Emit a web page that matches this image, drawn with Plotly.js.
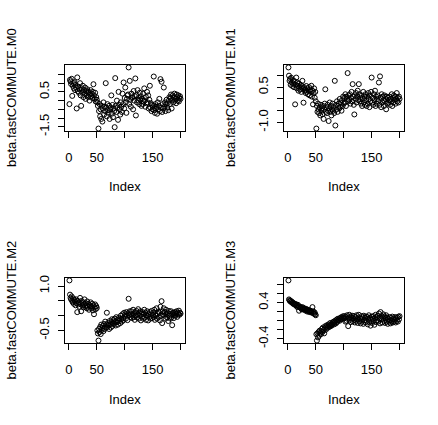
<!DOCTYPE html>
<html>
<head>
<meta charset="utf-8">
<script src="https://cdn.plot.ly/plotly-3.0.1.min.js"></script>
<style>
  html, body { margin: 0; padding: 0; background: #fff; }
  #plot { width: 438px; height: 425px; }
</style>
</head>
<body>
<div id="plot"></div>
<script>
// values, index 1..200
const beta_M0 = [
  -0.2, 1.19, 1.1, 0.95, 1.25, 0.27, 0.85, 1.0, 0.7, 1.05,
  0.6, 0.9, 0.75, -0.45, 1.33, 0.55, 0.8, 0.45, 0.65, 1.0,
  0.3, -0.3, 0.7, 0.5, 0.85, 0.2, 0.6, 0.4, 0.75, 0.1,
  0.55, 0.3, 0.65, 0.45, 0.2, 0.5, 0.0, 0.35, 0.6, 0.25,
  0.4, 0.15, 0.5, 0.94, 0.3, 0.1, 0.45, -0.05, 0.2, 0.05,
  -0.1, -0.3, -1.6, -0.6, -0.2, -0.9, -0.5, -1.05, -0.3, -1.2,
  -0.45, -0.1, -0.8, -0.35, -0.6, 1.0, -0.4, -0.9, -0.2, -0.55,
  -0.7, -0.3, -1.05, -0.5, -0.4, 0.3, -0.75, -0.25, -0.95, -0.45,
  -0.6, -1.52, 1.29, -0.3, -0.65, 0.0, -0.4, -1.1, 0.5, -0.25,
  -0.5, -0.8, -0.1, -0.35, -0.65, 0.4, -0.2, 1.04, -0.45, 0.15,
  0.75, -0.1, -0.7, 0.1, 0.3, 0.35, 1.9, -0.2, 1.13, 0.05,
  -0.35, 0.4, 0.15, 0.2, -0.5, 0.55, 0.0, 0.25, 1.27, -0.85,
  0.3, -0.1, 0.6, 0.0, 0.15, -0.2, 0.45, 0.05, 0.25, -0.3,
  0.1, -0.2, 0.4, -0.05, 0.7, 0.0, -0.35, 0.2, -0.15, 0.5,
  -0.1, 0.3, -0.45, 0.05, 0.85, -0.4, -0.15, -0.6, -0.25, -0.5,
  -0.3, 1.38, -0.55, -0.7, -0.2, -0.45, -0.35, -0.75, -0.1, -0.5,
  -0.3, 0.1, -0.6, 1.23, -0.4, 1.08, -0.65, -0.2, -0.45, 0.75,
  -0.35, -0.1, -0.6, -0.2, 0.05, -0.4, -0.15, -0.55, 0.0, 0.2,
  -0.2, 0.15, 0.35, -0.45, 0.05, 0.3, -0.1, 0.2, 0.4, 0.0,
  0.1, -0.15, 0.35, 0.2, 0.0, 0.3, -0.05, 0.15, 0.25, 0.1
];
const beta_M1 = [
  1.34, 0.99, 0.77, 0.85, 0.6, 0.9, 0.7, 0.55, 0.8, 0.65,
  0.5, 0.75, -0.23, 0.6, 0.91, 0.45, 0.7, 0.55, 0.35, 0.65,
  0.5, 0.4, 0.6, 0.3, 0.55, 0.77, 0.45, -0.16, 0.5, 0.35,
  0.4, 0.25, 0.55, 0.3, 0.45, 0.2, 0.35, 0.5, 0.15, 0.4,
  0.3, 0.56, 0.1, 0.35, -0.23, 0.25, 0.45, 0.05, 0.3, -0.1,
  -1.26, -0.3, -0.55, -0.2, -0.45, -0.6, -0.35, -0.7, -0.25, -0.5,
  -0.4, -0.65, -0.3, -0.85, -0.45, -0.2, 0.41, -0.55, -0.35, -0.6,
  -0.25, -0.5, -0.94, -0.4, -0.15, -0.55, -0.3, -0.7, -0.45, -0.2,
  -0.5, -0.35, -0.6, 0.77, -1.13, -0.25, -0.45, -0.1, -0.55, -0.3,
  -0.2, -0.4, 0.0, -0.35, -0.15, -0.5, -0.05, -0.3, 0.1, -0.2,
  0.05, -0.15, 0.2, -0.3, 0.1, 0.0, 1.1, -0.1, 0.15, -0.05,
  0.2, -0.2, 0.05, 0.3, -0.1, 0.63, 0.1, -0.25, -0.66, 0.15,
  0.0, 0.25, -0.15, 0.1, 0.35, -0.05, 0.63, 0.2, -0.1, 0.05,
  -0.2, 0.15, -0.3, 0.0, 0.3, -0.15, 0.1, -0.25, 0.2, -0.05,
  -0.3, 0.1, -0.2, 0.25, 0.0, -0.35, 0.15, -0.1, 0.3, 0.91,
  -0.15, 0.05, -0.25, 0.2, -0.05, 0.35, -0.3, 0.1, -0.2, 0.0,
  0.15, -0.1, 0.7, -0.25, 0.96, 0.05, -0.35, 0.2, -0.15, 0.1,
  -0.05, -0.3, 0.15, -0.1, 0.0, -0.44, 0.1, -0.2, 0.05, -0.15,
  -0.05, 0.1, -0.25, 0.0, -0.1, 0.2, -0.3, 0.05, -0.15, 0.15,
  -0.05, 0.1, -0.2, 0.0, 0.25, -0.1, 0.05, -0.15, 0.1, 0.0
];
const beta_M2 = [
  1.19, 0.71, 0.6, 0.55, 0.65, 0.5, 0.45, 0.58, 0.4, 0.52,
  0.48, 0.35, 0.55, 0.42, 0.12, 0.5, 0.38, 0.45, 0.3, 0.6,
  0.4, 0.15, 0.5, 0.35, 0.45, 0.28, 0.38, 0.55, 0.3, 0.42,
  0.35, 0.25, 0.48, 0.3, 0.4, 0.2, 0.36, 0.32, 0.45, 0.25,
  0.3, 0.4, 0.18, 0.35, 0.05, 0.28, 0.38, 0.22, 0.32, 0.26,
  -0.5, -0.6, -0.84, -0.45, -0.55, -0.38, -0.62, -0.3, -0.48, -0.42,
  -0.35, -0.52, -0.28, -0.45, -0.2, -0.4, -0.3, 0.1, -0.38, -0.25,
  -0.32, -0.45, -0.18, -0.3, -0.4, -0.22, -0.12, -0.35, -0.25, -0.15,
  -0.28, -0.1, -0.2, -0.33, -0.05, -0.22, -0.15, -0.3, -0.08, -0.18,
  -0.1, -0.25, 0.0, -0.12, -0.2, 0.05, -0.08, -0.15, 0.1, -0.02,
  0.05, -0.1, 0.12, 0.0, -0.15, 0.08, 0.57, 0.02, 0.15, -0.05,
  0.05, 0.15, -0.08, 0.02, 0.2, -0.05, 0.08, -0.14, 0.12, 0.0,
  0.16, -0.06, 0.05, 0.22, -0.1, 0.1, 0.0, 0.15, -0.16, 0.06,
  -0.04, 0.12, -0.1, 0.05, 0.2, -0.06, 0.1, -0.14, 0.02, 0.15,
  0.0, -0.16, 0.06, -0.05, 0.12, -0.1, 0.04, 0.16, -0.08, 0.02,
  0.1, -0.05, 0.2, -0.14, 0.05, 0.0, 0.25, -0.1, 0.06, 0.14,
  -0.05, 0.1, -0.16, 0.3, 0.0, 0.49, -0.25, 0.14, 0.04, 0.25,
  0.0, 0.12, -0.1, 0.2, 0.05, -0.06, 0.1, -0.18, 0.16, 0.0,
  0.06, -0.1, 0.15, -0.05, -0.32, 0.05, 0.1, -0.08, 0.02, 0.12,
  0.0, 0.08, 0.15, -0.04, 0.1, 0.05, 0.17, 0.03, 0.1, 0.07
];
const beta_M3 = [
  0.89, 0.47, 0.45, 0.43, 0.44, 0.41, 0.42, 0.39, 0.4, 0.37,
  0.38, 0.36, 0.35, 0.37, 0.33, 0.34, 0.3, 0.35, 0.32, 0.22,
  0.31, 0.29, 0.3, 0.27, 0.25, 0.3, 0.26, 0.28, 0.24, 0.27,
  0.25, 0.22, 0.26, 0.23, 0.2, 0.24, 0.21, 0.23, 0.19, 0.22,
  0.2, 0.18, 0.21, 0.3, 0.17, 0.2, 0.15, 0.18, 0.14, 0.12,
  -0.3, -0.44, -0.28, -0.37, -0.25, -0.33, -0.22, -0.27, -0.3, -0.24,
  -0.18, -0.25, -0.15, -0.21, -0.28, -0.17, -0.12, -0.2, -0.14, -0.1,
  -0.16, -0.12, -0.08, -0.14, -0.1, -0.05, -0.12, -0.08, -0.1, -0.04,
  -0.06, -0.02, -0.08, -0.04, 0.0, -0.06, 0.02, -0.03, 0.04, 0.0,
  0.02, 0.05, 0.0, 0.06, 0.03, 0.08, 0.04, 0.07, 0.1, 0.05,
  0.05, 0.1, -0.02, 0.08, 0.0, 0.12, 0.04, -0.12, 0.07, 0.13,
  0.02, 0.09, -0.03, 0.06, 0.11, -0.01, 0.05, 0.1, 0.02, -0.04,
  0.08, 0.0, 0.12, 0.03, -0.05, 0.07, 0.13, -0.01, 0.05, -0.06,
  0.04, 0.1, -0.02, 0.07, -0.07, 0.11, 0.01, 0.06, -0.04, 0.09,
  -0.01, 0.08, -0.08, 0.04, 0.12, -0.03, 0.06, -0.11, 0.02, 0.09,
  -0.05, 0.04, 0.1, -0.01, -0.09, 0.06, 0.13, -0.03, 0.08, 0.01,
  0.11, -0.02, 0.16, 0.05, -0.06, 0.19, 0.03, 0.1, -0.04, 0.07,
  0.14, 0.0, 0.09, -0.05, 0.05, 0.12, -0.02, 0.07, -0.07, 0.04,
  -0.02, 0.08, 0.01, -0.06, 0.06, -0.01, 0.09, -0.04, 0.04, -0.02,
  0.02, 0.08, -0.04, 0.05, 0.0, 0.07, -0.02, 0.09, 0.03, 0.1
];

// tick labels (R drops the ones that would overlap)
const x_tickvals = [0, 50, 100, 150, 200];
const x_ticktext = ['0', '50', '', '150', ''];
const M0_tickvals = [-1.5, -1, -0.5, 0, 0.5, 1, 1.5];
const M0_ticktext = ['-1.5', '', '', '', '0.5', '', ''];
const M1_tickvals = [-1, -0.5, 0, 0.5, 1];
const M1_ticktext = ['-1.0', '', '', '0.5', ''];
const M2_tickvals = [-0.5, 0, 0.5, 1];
const M2_ticktext = ['-0.5', '', '', '1.0'];
const M3_tickvals = [-0.4, -0.2, 0, 0.2, 0.4, 0.6, 0.8];
const M3_ticktext = ['-0.4', '', '', '', '0.4', '', ''];

const W = 438, H = 425;
const FONT = 'Liberation Sans, Arial, Helvetica, sans-serif';

// plot boxes in pixels: [left, right, top, bottom]
const panels = [
  {name: 'beta.fastCOMMUTE.M0', y: beta_M0, tv: M0_tickvals, tt: M0_ticktext, box: [65, 185, 65, 131]},
  {name: 'beta.fastCOMMUTE.M1', y: beta_M1, tv: M1_tickvals, tt: M1_ticktext, box: [284, 404, 65, 131]},
  {name: 'beta.fastCOMMUTE.M2', y: beta_M2, tv: M2_tickvals, tt: M2_ticktext, box: [65, 185, 278, 343]},
  {name: 'beta.fastCOMMUTE.M3', y: beta_M3, tv: M3_tickvals, tt: M3_ticktext, box: [284, 404, 278, 343]}
];

// R style range: data extent plus 4% each side
function r_range(v){
  let lo = Math.min(...v), hi = Math.max(...v);
  let d = (hi - lo) * 0.04;
  return [lo - d, hi + d];
}

let traces = [];
let layout = {
  width: W, height: H,
  margin: {l: 0, r: 0, t: 0, b: 0},
  paper_bgcolor: '#fff', plot_bgcolor: '#fff',
  showlegend: false,
  font: {family: FONT, size: 13, color: '#000'},
  annotations: []
};

panels.forEach((p, i) => {
  let k = i == 0 ? '' : String(i + 1);
  let index = p.y.map((_, j) => j + 1);
  let [l, r, t, b] = p.box;

  traces.push({
    x: index, y: p.y,
    xaxis: 'x' + k, yaxis: 'y' + k,
    type: 'scatter', mode: 'markers',
    marker: {symbol: 'circle-open', size: 5, color: '#000', line: {width: 1, color: '#000'}},
    hoverinfo: 'x+y'
  });

  let common = {
    showline: true, linecolor: '#000', linewidth: 1, mirror: true,
    showgrid: false, zeroline: false,
    ticks: 'outside', ticklen: 6, tickwidth: 1, tickcolor: '#000',
    tickfont: {family: FONT, size: 13, color: '#000'},
    tickmode: 'array', fixedrange: true
  };

  layout['xaxis' + k] = Object.assign({}, common, {
    domain: [l / W, r / W], anchor: 'y' + k,
    range: r_range(index),
    tickvals: x_tickvals, ticktext: x_ticktext,
    ticklabelstandoff: 8
  });
  layout['yaxis' + k] = Object.assign({}, common, {
    domain: [1 - b / H, 1 - t / H], anchor: 'x' + k,
    range: r_range(p.y),
    tickvals: p.tv, ticktext: p.tt,
    tickangle: -90, ticklabelstandoff: 4
  });

  // axis titles, placed like R's mtext lines
  layout.annotations.push({
    text: 'Index', xref: 'paper', yref: 'paper',
    x: (l + r) / 2 / W, y: 1 - (b + 56) / H,
    xanchor: 'center', yanchor: 'middle', showarrow: false,
    font: {family: FONT, size: 13, color: '#000'}
  });
  layout.annotations.push({
    text: p.name, xref: 'paper', yref: 'paper',
    x: (l - 54) / W, y: 1 - (t + b) / 2 / H,
    xanchor: 'center', yanchor: 'middle', textangle: -90, showarrow: false,
    font: {family: FONT, size: 13, color: '#000'}
  });
});

Plotly.newPlot('plot', traces, layout, {displayModeBar: false, staticPlot: true});
</script>
</body>
</html>
